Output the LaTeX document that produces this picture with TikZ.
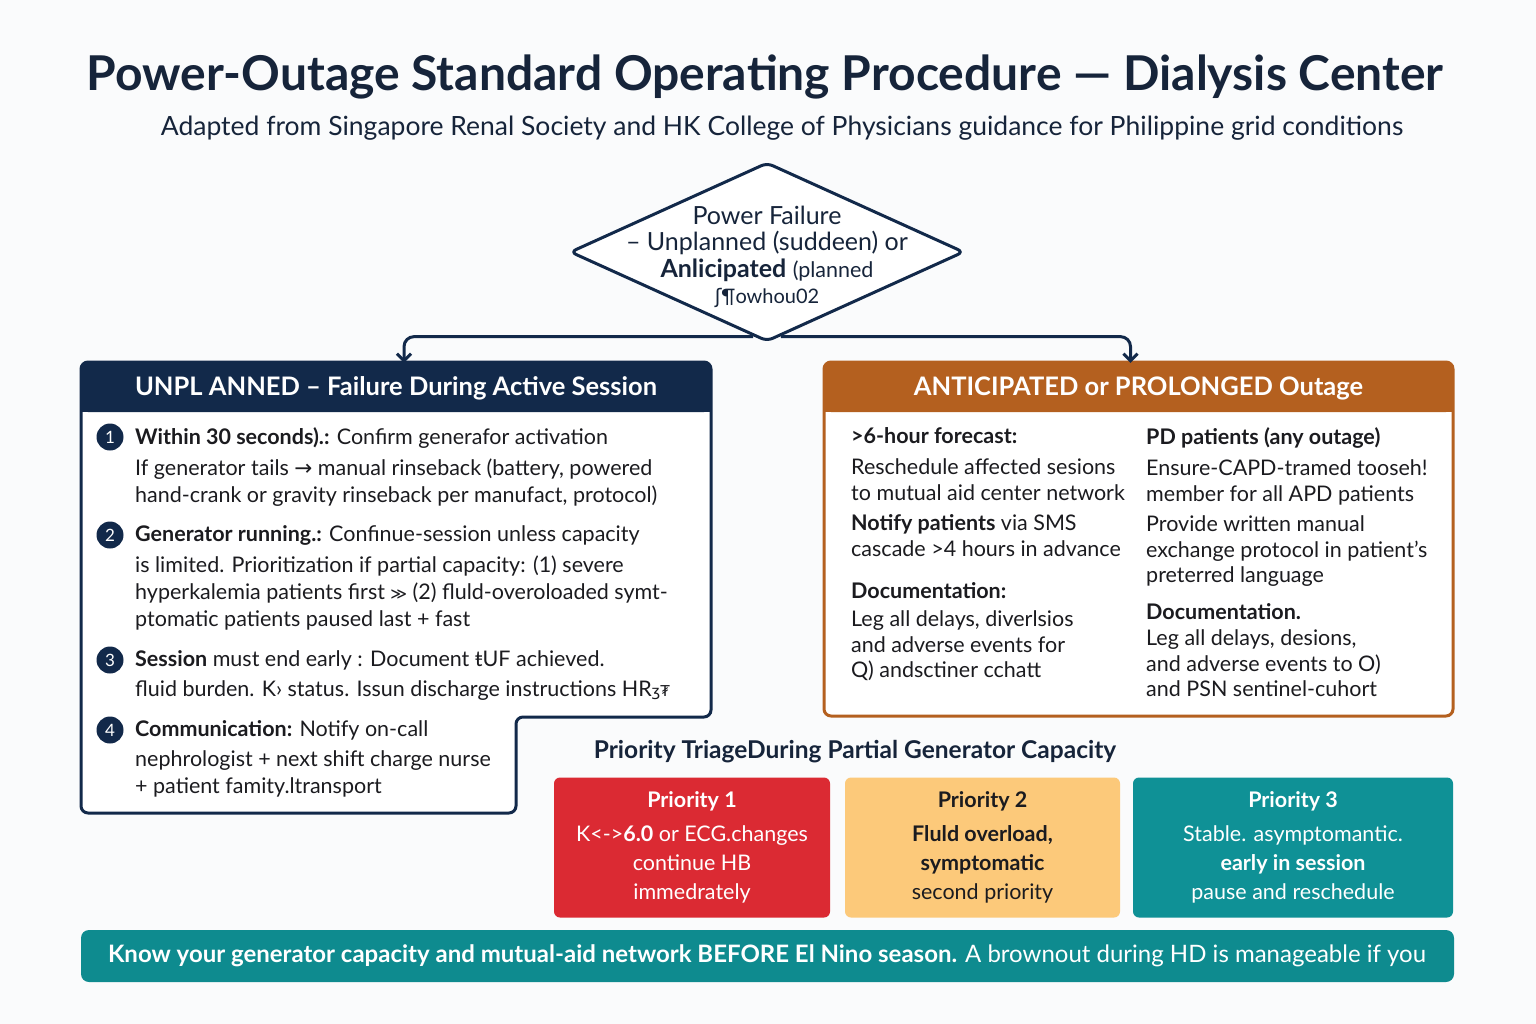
\documentclass[tikz,border=0pt]{standalone}
\usepackage{fontspec}
\setmainfont{Lato}
\newfontfamily\symfont{DejaVu Sans}
\usetikzlibrary{shapes.geometric,arrows.meta,calc}
\definecolor{navy}{HTML}{12294A}
\definecolor{ink}{HTML}{16243A}
\definecolor{bodyink}{HTML}{1B1B1F}
\definecolor{rust}{HTML}{B4601F}
\definecolor{alarm}{HTML}{DB2A33}
\definecolor{amber}{HTML}{FCC97A}
\definecolor{teal}{HTML}{0F9196}
\definecolor{bannerteal}{HTML}{0E8B8F}
\definecolor{paper}{HTML}{FAFBFC}
\tikzset{
	txt/.style={anchor=north west, align=left, inner sep=0pt, text=bodyink, font=\fontsize{21.5}{27}\selectfont},
	rtxt/.style={txt, font=\fontsize{21.5}{25.5}\selectfont},
	num/.style={circle, fill=navy, text=white, inner sep=0pt, minimum size=27, font=\fontsize{17}{17}\selectfont},
	headtxt/.style={minimum width=629, minimum height=50, inner sep=0pt, text=white, font=\fontsize{25.5}{25.5}\selectfont\bfseries},
	prio/.style={rounded corners=6, minimum height=140, inner sep=0pt, align=center, font=\fontsize{21.5}{29}\selectfont},
	flow/.style={navy, line width=3, rounded corners=10, -{Straight Barb[length=7pt,width=14pt]}}
}
\begin{document}
\begin{tikzpicture}[x=1pt, y=-1pt]
	% page
	\fill[paper] (0,0) rectangle (1536,1024);
	\useasboundingbox (0,0) rectangle (1536,1024);
	% title
	\path
	(765,77) node[text=ink, font=\fontsize{48}{48}\selectfont\bfseries] (title) {Power-Outage Standard Operating Procedure — Dialysis Center}
	(782,128) node[text=ink, font=\fontsize{26.5}{26.5}\selectfont] (subtitle) {Adapted from Singapore Renal Society and HK College of Physicians guidance for Philippine grid conditions}
	;
	% boxes
	\fill[white, rounded corners=7] (81,362) -- (711,362) -- (711,717) -- (516,717) -- (516,813) -- (81,813) -- cycle;
	\fill[navy, rounded corners=7] (81,362) rectangle (711,412);
	\fill[navy] (81,390) rectangle (711,412);
	\draw[navy, line width=3, rounded corners=7] (81,362) -- (711,362) -- (711,717) -- (516,717) -- (516,813) -- (81,813) -- cycle;
	\fill[white, rounded corners=7] (824,362) rectangle (1453,716);
	\fill[rust, rounded corners=7] (824,362) rectangle (1453,412);
	\fill[rust] (824,390) rectangle (1453,412);
	\draw[rust, line width=3, rounded corners=7] (824,362) rectangle (1453,716);
	\node[headtxt] (unphead) at (396,388) {UNPL ANNED – Failure During Active Session};
	\node[headtxt] (anthead) at (1138.5,388) {ANTICIPATED or PROLONGED Outage};
	% decision
	\node[diamond, draw=navy, line width=3, fill=white, minimum width=394, minimum height=179, inner sep=0pt, rounded corners=6] (dia) at (767,252) {};
	\coordinate (splitL) at ($(dia.south)!0.07!(dia.west)$);
	\coordinate (splitR) at ($(dia.south)!0.07!(dia.east)$);
	\draw[flow] (splitL) -| ($(unphead.north)+(8,0)$);
	\draw[flow] (splitR) -| ($(anthead.north)+(-8,0)$);
	\node[align=center, text=ink, font=\fontsize{25}{26.5}\selectfont] (diatext) at (767,257)
		{Power Failure\\ – Unplanned (suddeen) or\\ \textbf{Anlicipated} {\fontsize{21.5}{26.5}\selectfont (planned}\\ {\fontsize{20}{26.5}\selectfont{\symfont ʃ}¶owhou02}};
	% unplanned steps
	\path
	(110,437) node[num] (n1) {1}
	(110,535) node[num] (n2) {2}
	(110,660) node[num] (n3) {3}
	(110,730) node[num] (n4) {4}
	(135,427) node[txt] (it1) {\textbf{Within 30 seconds).:} Confirm generafor activation\\[4pt] If generator tails {\symfont →} manual rinseback (battery, powered\\ hand-crank or gravity rinseback per manufact, protocol)}
	(135,525) node[txt] (it2) {\textbf{Generator running.:} Confinue-session unless capacity\\[4pt] is limited. Prioritization if partial capacity: (1) severe\\ hyperkalemia patients first {\symfont\fontsize{16}{27}\selectfont ≫} (2) fluld-overoloaded symt-\\ ptomatic patients paused last + fast}
	(135,650) node[txt] (it3) {\textbf{Session} must end early : Document ŧUF achieved.\\[3pt] fluid burden. K› status. Issun discharge instructions HR{\symfont\fontsize{15}{27}\selectfont ʒ₮}}
	(135,720) node[txt] (it4) {\textbf{Communication:} Notify on-call\\[3pt] nephrologist + next shift charge nurse\\ + patient famity.ltransport}
	;
	% anticipated columns
	\path
	(851,427) node[rtxt] (fc) {\textbf{>6-hour forecast:}\\[6pt] Reschedule affected sesions\\ to mutual aid center network\\[5pt] \textbf{Notify patients} via SMS\\ cascade >4 hours in advance}
	(851,582) node[rtxt] (docL) {\textbf{Documentation:}\\[3pt] Leg all delays, diverlsios\\ and adverse events for\\ Q) andsctiner cchatt}
	(1146,427) node[rtxt] (pd) {\textbf{PD patients (any outage)}\\[6pt] Ensure-CAPD-tramed tooseh!\\ member for all APD patients\\[5pt] Provide written manual\\ exchange protocol in patient’s\\ preterred language}
	(1146,603) node[rtxt] (docR) {\textbf{Documentation.}\\[1pt] Leg all delays, desions,\\ and adverse events to O)\\ and PSN sentinel-cuhort}
	;
	% triage
	\node[text=ink, font=\fontsize{24.5}{24.5}\selectfont\bfseries] (triage) at (855,752) {Priority TriageDuring Partial Generator Capacity};
	\path
	(692,847.5) node[prio, fill=alarm, text=white, minimum width=276] (p1) {\textbf{Priority 1}\\[5pt] K<->\textbf{6.0} or ECG.changes\\ continue HB\\ immedrately}
	(982.5,847.5) node[prio, fill=amber, text=bodyink, minimum width=275] (p2) {\textbf{Priority 2}\\[5pt] \textbf{Fluld overload,}\\ \textbf{symptomatic}\\ second priority}
	(1293,847.5) node[prio, fill=teal, text=white, minimum width=320] (p3) {\textbf{Priority 3}\\[5pt] Stable. asymptomantic.\\ \textbf{early in session}\\ pause and reschedule}
	;
	% banner
	\node[fill=bannerteal, rounded corners=8, minimum width=1373, minimum height=52, inner sep=0pt] (banner) at (767.5,956) {};
	\node[anchor=west, text=white, inner sep=0pt, font=\fontsize{24}{24}\selectfont] (bantext) at ($(banner.west)+(27,0)$)
		{\textbf{Know your generator capacity and mutual-aid network BEFORE El Nino season.} A brownout during HD is manageable if you};
\end{tikzpicture}
\end{document}
